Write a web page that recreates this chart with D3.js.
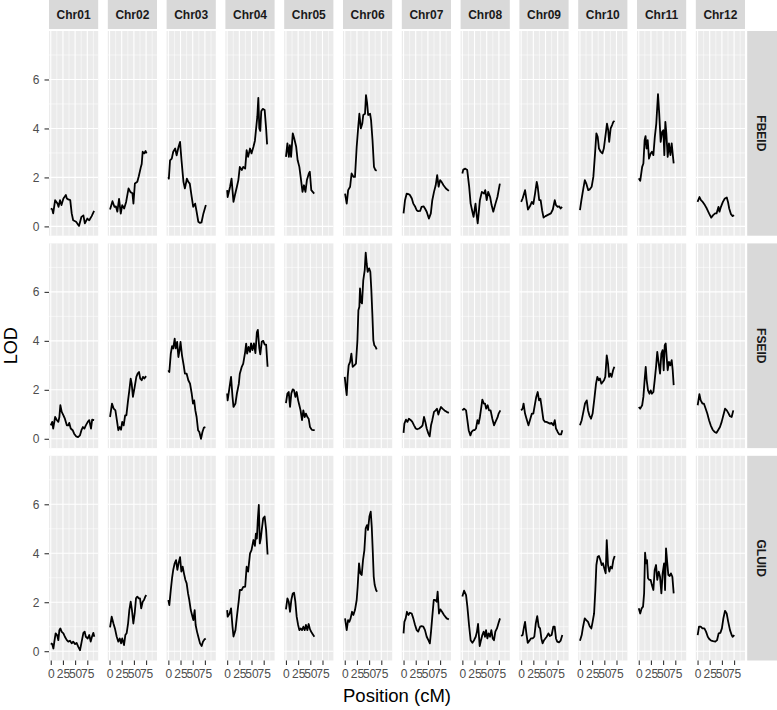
<!DOCTYPE html>
<html><head><meta charset="utf-8">
<script src="https://cdn.jsdelivr.net/npm/d3@7"></script>
<style>body{margin:0;background:#fff} svg{display:block} text{font-family:"Liberation Sans",Arial,Helvetica,sans-serif}</style>
</head><body><svg id="c" width="777" height="710"></svg>
<script>
const chromosomes = ["Chr01","Chr02","Chr03","Chr04","Chr05","Chr06","Chr07","Chr08","Chr09","Chr10","Chr11","Chr12"];
const traits = ["FBEID","FSEID","GLUID"];
const yTicks = [0,2,4,6];
const yMinor = [1,3,5,7];
const xTicks = [0,25,50,75];
const xMinor = [12.5,37.5,62.5,87.5];

// [position (cM), LOD] per chromosome
const fbeid = [
 [[0,0.73],[3,0.7],[5,0.53],[9,1.07],[14,0.93],[16,0.8],[19,1.07],[22,0.87],[26,1.14],[31,1.28],[33,1.14],[36,1.1],[40,1.07],[43,0.53],[46,0.25],[52,0.19],[58,0.02],[63,0.39],[67,0.45],[70,0.12],[75,0.32],[79,0.25],[84,0.42],[89,0.63]],
 [[1,0.69],[6,1.03],[10,0.8],[13,0.82],[16,0.6],[19.5,1.12],[23,0.52],[26,0.87],[30,0.73],[34,1.0],[39,1.55],[43,1.4],[47,1.35],[49,0.93],[52,1.75],[57,1.82],[60,2.05],[64,2.4],[66,2.55],[68,3.05],[71,2.98],[74,3.08],[76,2.98]],
 [[0,2.02],[1,1.95],[3.5,2.7],[7,2.77],[10,3.05],[14,3.18],[17,2.9],[21,3.25],[24,3.45],[27,2.7],[31,1.82],[34,1.55],[38,1.95],[41,1.82],[44,1.75],[48,1.2],[51,0.8],[55,0.93],[58,0.6],[61.5,0.19],[65,0.14],[68,0.16],[72,0.53],[77,0.87]],
 [[0,1.48],[1,1.2],[6,1.62],[9,1.95],[13,1.0],[16,1.28],[20,1.62],[23,1.89],[26,2.43],[30,2.3],[33,2.43],[37,2.36],[40,3.11],[43,2.84],[47,3.18],[50,2.98],[54,3.25],[57,3.5],[59,3.9],[62,4.5],[64,5.25],[66,4.0],[68,3.9],[70,4.7],[73,4.8],[77,4.75],[80,4.0],[82,3.35]],
 [[0,2.84],[3,3.39],[6,2.84],[8,3.32],[10.5,2.84],[14,3.8],[17,3.59],[21,3.25],[24,2.7],[27.5,2.43],[31,1.89],[34,1.41],[37,1.68],[40,1.41],[43,1.89],[47,2.16],[49,2.23],[52,1.48],[55,1.41],[58,1.34]],
 [[0.6,1.34],[4,0.93],[7,1.48],[11,1.62],[14,2.16],[18,2.02],[21,2.02],[24.5,3.25],[28,4.14],[30,4.6],[33,4.0],[36,4.2],[38,4.55],[41.6,4.6],[43.6,5.36],[46,5.02],[48,4.55],[52,4.6],[54,4.34],[57,3.52],[60,2.43],[63,2.3],[65.5,2.27]],
 [[0,0.53],[3,1.07],[6.5,1.34],[10,1.32],[13,1.28],[17,1.14],[20,0.93],[24,0.8],[27,0.66],[30,0.62],[34,0.63],[37,0.8],[41,0.82],[44,0.73],[47.5,0.6],[52,0.32],[56,0.53],[59,1.07],[62.5,1.41],[66,1.68],[69,2.09],[72,1.62],[75,1.89],[78,1.82],[82,1.68],[87,1.55],[93,1.45]],
 [[0,2.16],[2,2.32],[6,2.36],[10,2.3],[14,1.62],[17,0.93],[20.6,0.6],[23,0.39],[27,0.93],[29,0.53],[31.5,0.12],[33.5,0.53],[36,1.07],[40,1.41],[44.5,1.34],[47,1.48],[50,1.07],[53,1.41],[57,1.2],[60,0.87],[63.5,0.6],[68,0.93],[72,1.2],[77,1.75]],
 [[0,1.0],[3,1.14],[8,1.48],[11,1.07],[14,0.69],[18,0.82],[22,1.0],[25,0.91],[28.5,1.34],[32,1.82],[34,1.62],[37,1.07],[40,1.07],[43,0.66],[46,0.36],[50,0.42],[56,0.48],[61,0.53],[65,0.69],[69,1.07],[71.5,0.87],[75,0.8],[78,0.82],[81,0.73],[84,0.8]],
 [[0,0.66],[3,1.07],[6.4,1.48],[10,1.89],[13,1.75],[17,1.48],[20,1.51],[24,1.62],[27.5,2.02],[31,2.98],[33.7,3.8],[36.4,3.66],[39,3.18],[42.5,3.05],[46,2.98],[49,3.18],[53,3.8],[55.5,4.2],[58,3.93],[60,3.45],[63,4.0],[66,4.14],[68.5,4.27],[71,4.31]],
 [[0,1.96],[3,1.86],[7,2.43],[9.5,2.57],[12,3.52],[14,3.69],[16,3.18],[18.4,3.52],[21,2.77],[24.5,2.98],[27,3.05],[30,2.91],[33,3.66],[36,4.2],[39.5,5.4],[42,4.61],[45,3.45],[48,3.86],[50.5,3.93],[52.5,2.91],[54.6,4.27],[56.6,3.8],[59.4,2.84],[62,3.39],[65,2.91],[67.6,3.39],[70.3,2.84],[71.7,2.57]],
 [[0,1.0],[4,1.2],[7,1.07],[10.6,1.0],[15,0.87],[19,0.73],[23.6,0.53],[28,0.36],[32,0.46],[36,0.53],[39,0.53],[43,0.8],[45,0.6],[48,0.8],[52,1.0],[56,1.14],[60,1.18],[62.5,1.0],[65,0.73],[68.6,0.5],[72,0.42],[75,0.46]]
];
const fseid = [
 [[0,0.55],[3,0.69],[5,0.42],[9,0.89],[12,0.78],[15.6,0.69],[17.7,0.89],[19.7,1.37],[22.5,1.1],[26,0.96],[29,0.82],[33,0.55],[36,0.55],[38,0.65],[41,0.42],[45,0.35],[48,0.21],[52,0.1],[56,0.07],[60,0.14],[63,0.35],[66,0.48],[69,0.42],[72,0.55],[76,0.69],[79,0.76],[82.6,0.42],[85,0.78],[89,0.76]],
 [[1,0.89],[5,1.44],[8.5,1.23],[12,1.16],[15,0.76],[18,0.35],[21,0.48],[23.6,0.37],[26,0.69],[29,0.55],[32,0.96],[34.5,0.96],[38,1.57],[40.6,1.98],[43.4,2.46],[45.4,2.25],[48,1.71],[51.6,2.12],[55,2.53],[57.7,2.66],[60.5,2.73],[63,2.46],[66,2.39],[68.6,2.53],[71.4,2.46],[75,2.56]],
 [[0,2.8],[2,2.73],[5,3.48],[7.6,3.78],[10,3.69],[13,4.09],[15,3.69],[18,3.96],[20.6,3.34],[23,3.62],[25,3.96],[28,3.41],[31.5,3.0],[34,2.66],[37.6,2.66],[41,2.39],[44.5,2.25],[48,1.84],[50.6,1.44],[53,1.57],[55.4,1.16],[58,0.89],[61,0.35],[63.6,0.28],[67,0.0],[70,0.28],[73,0.46],[76,0.48]],
 [[0,1.85],[1,1.57],[5,2.12],[8,2.53],[11,1.71],[13,1.3],[17,1.44],[20,1.85],[24,2.25],[26,2.66],[30,2.94],[33,3.07],[37,3.55],[39,3.89],[41,3.48],[44,3.75],[47,3.55],[49,3.9],[52,3.62],[55,3.9],[58,3.5],[61,4.35],[63,4.45],[66,3.7],[68,3.45],[71,3.96],[74,4.0],[77,3.85],[80,3.85],[83,2.94]],
 [[0,1.46],[3,1.85],[5.7,1.91],[8.4,1.3],[11,1.85],[14,2.02],[16.6,1.98],[19.3,1.71],[22,1.91],[25,1.57],[27.5,1.37],[30,1.16],[33,0.76],[35.7,1.16],[38.5,0.89],[41,1.03],[44,0.89],[46.6,0.82],[49.4,0.48],[53,0.37],[56,0.35],[59,0.35]],
 [[0,2.53],[2,2.12],[4,1.78],[6,2.53],[8,3.0],[11,3.14],[13.6,3.48],[16.3,2.94],[19.7,3.0],[23,3.07],[26,4.02],[28,5.25],[30,5.39],[31.3,6.14],[33.4,5.59],[35.4,5.53],[38,6.47],[41,6.89],[43,7.6],[45,7.16],[47,6.82],[50,6.96],[52.5,6.82],[54.6,6.07],[56.6,5.12],[58.7,4.02],[60.7,3.82],[63.5,3.75],[65.5,3.65]],
 [[0,0.24],[1.7,0.62],[5,0.78],[8,0.69],[11,0.82],[15,0.76],[18,0.69],[21.5,0.55],[25,0.42],[28,0.39],[32,0.42],[36,0.48],[39,0.55],[42,0.89],[44.7,0.69],[47.5,0.42],[51,0.21],[53.6,0.1],[56.4,0.55],[59,0.76],[62.5,1.1],[66,1.16],[68.6,1.23],[71.4,0.99],[74,1.16],[77,1.3],[80,1.23],[84,1.16],[88.5,1.1],[93,1.06]],
 [[0,1.16],[3.5,1.23],[7.6,1.16],[10.3,0.76],[13,0.35],[16.5,0.14],[19,0.28],[22.6,0.35],[25,0.35],[28,0.42],[31,0.76],[33.5,0.62],[36,0.89],[39,1.3],[41,1.6],[44,1.44],[46.5,1.44],[49,1.23],[52,1.37],[54.7,1.16],[58,1.16],[61.5,0.82],[65,0.55],[68,0.69],[72,0.86],[74.5,1.03],[78,1.16]],
 [[0,1.16],[3,1.23],[5,1.44],[8,1.03],[11,0.82],[15,0.55],[18,0.76],[22,1.03],[25,1.03],[28.5,1.44],[31,1.71],[34,1.91],[36.7,1.57],[39.5,1.64],[42,1.3],[45.6,0.78],[49,0.69],[52,0.69],[56,0.65],[59,0.62],[62.6,0.65],[66,0.55],[69,0.76],[71.5,0.42],[75,0.28],[78,0.18],[82,0.18],[84.5,0.35]],
 [[0,0.55],[3.6,0.76],[7,1.1],[10.4,1.44],[14,1.57],[16.6,1.16],[19.3,0.96],[22.7,0.82],[26,1.03],[29.6,1.64],[33,2.25],[35.7,2.53],[38.5,2.39],[41,2.46],[44,2.25],[46.7,2.32],[49.4,2.39],[52,2.53],[55,3.41],[57.6,3.07],[59.7,2.53],[62.4,2.66],[65,2.53],[68,2.8],[70.6,2.94]],
 [[0,1.3],[3,1.23],[7,1.37],[9.5,1.71],[12,2.39],[14.3,2.94],[16.3,2.39],[19,1.98],[22,1.84],[24.5,1.98],[27,1.84],[30,1.91],[32.7,2.39],[35.5,2.94],[38,3.55],[41,3.07],[43.7,2.66],[46.4,3.48],[49,3.62],[51.2,2.8],[53.3,3.82],[55.3,3.89],[57.3,3.34],[59.4,2.8],[62,3.14],[64.8,3.0],[67.6,3.21],[69.7,2.8],[71.7,2.19]],
 [[0.3,1.37],[3.8,1.82],[6.5,1.57],[10,1.44],[13,1.44],[16.7,1.23],[20,1.03],[23.6,0.76],[27,0.55],[31,0.37],[35,0.28],[39,0.24],[42.7,0.37],[46,0.48],[49.5,0.69],[53,0.96],[56.4,1.23],[60,1.16],[63,1.06],[66.6,0.92],[70,0.89],[73.4,1.16]]
];
const gluid = [
 [[0,0.32],[3,0.29],[5.4,0.11],[7.4,0.39],[10,0.73],[13,0.66],[15.6,0.45],[17.7,0.86],[19.7,0.93],[22.5,0.79],[26,0.73],[29,0.59],[33,0.45],[36,0.39],[39.5,0.43],[43,0.32],[46,0.39],[50,0.29],[53,0.34],[56.6,0.18],[60,0.04],[63.5,0.39],[67,0.75],[69.6,0.8],[72,0.59],[76,0.52],[79,0.66],[82,0.39],[84.6,0.59],[87.4,0.75],[89.4,0.59]],
 [[1,0.97],[4.4,1.41],[8,1.13],[11,0.93],[14.7,0.59],[18,0.39],[21,0.52],[23.6,0.32],[26,0.52],[29.7,0.25],[32.4,0.66],[35,0.73],[38,1.13],[40.6,1.68],[43.4,2.02],[46,1.68],[48.8,1.13],[51.6,1.54],[54.3,2.16],[57,2.23],[60,2.16],[62.5,2.16],[65,1.75],[68,2.02],[70.7,2.09],[73.4,2.23],[75.5,2.29]],
 [[0,2.09],[2,1.88],[5,2.5],[7.6,2.98],[10,3.32],[13,3.59],[15.8,3.72],[18.5,3.32],[21,3.59],[24,3.84],[26.7,3.25],[29.4,3.45],[32,3.18],[35,2.91],[37.6,2.77],[40.4,2.36],[43,2.09],[46,1.68],[48.6,1.48],[51.3,1.27],[54,1.68],[56,1.07],[58.8,0.8],[61.5,0.59],[65,0.32],[68.4,0.21],[71,0.39],[74,0.48],[76.6,0.52]],
 [[0,1.68],[1,1.41],[5,1.54],[8,1.75],[11,1.0],[13,0.6],[17,0.86],[20,1.41],[24,2.09],[26,2.5],[30,2.5],[33,2.63],[37,2.63],[40,3.45],[43,3.25],[47,4.0],[50,4.13],[54,4.54],[57,4.3],[59,4.8],[61,4.6],[63,5.4],[65,5.97],[67,4.4],[69,4.6],[71,4.95],[74,5.43],[77,5.5],[80,4.95],[83,3.95]],
 [[0,1.71],[3,2.16],[5.7,2.02],[8.4,1.61],[11,2.09],[14,2.36],[16.6,2.39],[19.3,2.02],[22,1.41],[25,1.07],[27.5,0.86],[30,0.93],[33,0.86],[35.7,1.0],[38.5,0.86],[41,1.07],[44,0.86],[46.6,1.11],[49.4,0.89],[53,0.75],[56,0.66],[58.3,0.59]],
 [[0.6,1.34],[4,0.86],[6.8,1.27],[9.5,1.2],[12,1.34],[15,1.61],[17.7,1.48],[21,1.68],[24.5,2.09],[26.5,2.63],[29.3,3.59],[32,3.18],[34.8,3.11],[37.5,3.72],[40.3,4.13],[43,5.02],[45.7,5.15],[47.8,4.95],[50.6,5.5],[53.3,5.7],[55.4,5.09],[57.4,4.13],[59.5,3.04],[61.5,2.7],[64.3,2.5],[66.3,2.43]],
 [[0,0.73],[1.7,1.2],[4.4,1.34],[7,1.61],[10,1.48],[13,1.57],[16.7,1.54],[20,1.34],[23.6,1.07],[27,0.86],[30,0.8],[34,1.0],[37,1.02],[40.6,1.0],[44,0.86],[47.5,0.59],[51,0.45],[54,0.32],[56.4,0.8],[59,1.41],[62,2.09],[65,2.09],[68,2.02],[70,2.43],[72.7,1.54],[75.5,1.71],[79,1.61],[83,1.48],[88.5,1.34],[93,1.3]],
 [[0,2.23],[3.5,2.47],[7.6,2.29],[10.3,1.82],[13.7,1.07],[17,0.45],[20.6,0.34],[24,0.45],[27.4,0.59],[30,0.8],[32.2,1.11],[34.2,0.59],[35.6,0.21],[38.3,0.45],[41,0.66],[43.8,0.8],[46.5,0.59],[48.6,0.86],[51.3,0.52],[54,0.73],[56.8,0.59],[59.5,0.86],[62.3,0.52],[65,0.45],[67.7,0.8],[71,0.93],[74,1.13],[77.3,1.34]],
 [[0,0.62],[3,0.66],[6,1.0],[8,1.2],[10.7,0.73],[13.5,0.34],[17,0.43],[20,0.52],[23.7,0.52],[27,0.59],[30,1.13],[33,1.43],[36,1.0],[38.8,0.93],[41.5,0.52],[44,0.32],[47,0.45],[49.7,0.52],[52.4,0.59],[56,0.73],[59,0.62],[62.6,0.66],[66,1.0],[68.8,1.0],[71.5,0.52],[74,0.39],[77.7,0.36],[81,0.43],[84.5,0.66]],
 [[0,0.43],[3.6,0.66],[6.4,1.0],[9.8,1.34],[13,1.27],[16.6,1.2],[20,1.02],[23.4,0.93],[26,1.2],[29,1.54],[31.6,2.5],[33.7,3.52],[36.4,3.86],[39,3.89],[42,3.72],[44.6,3.52],[47.3,3.59],[50,3.38],[52.8,3.18],[55,4.54],[57.6,3.52],[60.3,3.25],[63,3.45],[65.8,3.38],[68.5,3.72],[71.3,3.89]],
 [[0,1.75],[3,1.54],[6,1.75],[8.8,1.82],[11,2.36],[13,4.02],[15,3.59],[17,3.72],[19,2.98],[21.8,2.91],[24.5,2.91],[27,2.7],[30,2.5],[32.7,3.32],[35.5,3.52],[38,2.91],[41,3.25],[43.7,3.04],[46.4,2.36],[49,3.18],[52,3.59],[54,2.5],[56,4.2],[58,3.72],[60.7,3.11],[63.5,3.07],[66,3.18],[69,3.04],[71.7,2.36]],
 [[0.3,0.66],[3,1.0],[6.5,1.0],[10,0.93],[14,0.93],[17.4,0.8],[21,0.59],[24,0.5],[28,0.43],[32,0.41],[36.5,0.39],[40,0.45],[43.4,0.73],[46.8,0.75],[50,0.93],[53,1.34],[56.4,1.65],[59.8,1.54],[63,1.2],[66.6,0.86],[70,0.66],[72,0.59],[75.5,0.66]]
];

const series = [fbeid, fseid, gluid];
const svg = d3.select("#c");
const L = 49, PW = 49.2, CS = 58.8, T = 31, PH = 204.7, RS = 212.4;
const STRIP = 29;

const x = d3.scaleLinear().domain([-3.6, 97.4]).range([0, PW]);
const allLod = series.flat(2).map(d => d[1]);
const [lo, hi] = d3.extent(allLod);
const pad = (hi - lo) * 0.05;
const y = d3.scaleLinear().domain([lo - pad, hi + pad]).range([PH, 0]);
const line = d3.line().x(d => x(d[0])).y(d => y(d[1]));

// top strips
chromosomes.forEach((c, i) => {
  const g = svg.append("g").attr("transform", `translate(${L + i * CS},0)`);
  g.append("rect").attr("width", PW).attr("height", STRIP).attr("fill", "#D9D9D9");
  g.append("text").attr("x", PW / 2).attr("y", STRIP / 2 + 4.3).attr("text-anchor", "middle")
    .attr("font-size", 12).attr("font-weight", "bold").attr("fill", "#1A1A1A").text(c);
});
// right strips
const RX = L + 11 * CS + PW + 2.2;
traits.forEach((t, r) => {
  const g = svg.append("g").attr("transform", `translate(${RX},${T + r * RS})`);
  g.append("rect").attr("width", STRIP + 1).attr("height", PH).attr("fill", "#D9D9D9");
  g.append("text").attr("transform", `translate(${STRIP / 2 - 4.3},${PH / 2}) rotate(90)`)
    .attr("text-anchor", "middle").attr("font-size", 12).attr("font-weight", "bold")
    .attr("fill", "#1A1A1A").text(t);
});

// panels
traits.forEach((t, r) => {
  chromosomes.forEach((c, i) => {
    const g = svg.append("g").attr("transform", `translate(${L + i * CS},${T + r * RS})`);
    g.append("rect").attr("width", PW).attr("height", PH).attr("fill", "#EBEBEB");
    g.selectAll(".hm").data(yMinor).enter().append("line")
      .attr("x1", 0).attr("x2", PW).attr("y1", d => y(d)).attr("y2", d => y(d))
      .attr("stroke", "#fff").attr("stroke-width", 0.55);
    g.selectAll(".vm").data(xMinor).enter().append("line")
      .attr("y1", 0).attr("y2", PH).attr("x1", d => x(d)).attr("x2", d => x(d))
      .attr("stroke", "#fff").attr("stroke-width", 0.55);
    g.selectAll(".hM").data(yTicks).enter().append("line")
      .attr("x1", 0).attr("x2", PW).attr("y1", d => y(d)).attr("y2", d => y(d))
      .attr("stroke", "#fff").attr("stroke-width", 1.1);
    g.selectAll(".vM").data(xTicks).enter().append("line")
      .attr("y1", 0).attr("y2", PH).attr("x1", d => x(d)).attr("x2", d => x(d))
      .attr("stroke", "#fff").attr("stroke-width", 1.1);
    g.append("path").datum(series[r][i]).attr("d", line)
      .attr("fill", "none").attr("stroke", "#000").attr("stroke-width", 1.8)
      .attr("stroke-linejoin", "round");
  });
  // y axis
  const ay = svg.append("g").attr("transform", `translate(${L},${T + r * RS})`)
    .call(d3.axisLeft(y).tickValues(yTicks).tickSize(4.5).tickPadding(5).tickFormat(d3.format("d")));
  ay.select(".domain").remove();
  ay.selectAll("line").attr("stroke", "#333").attr("stroke-width", 1.1);
  ay.selectAll("text").attr("fill", "#4D4D4D").attr("font-size", 12).attr("font-family", null);
});
// x axes
chromosomes.forEach((c, i) => {
  const ax = svg.append("g").attr("transform", `translate(${L + i * CS},${T + 2 * RS + PH})`)
    .call(d3.axisBottom(x).tickValues(xTicks).tickSize(4.5).tickPadding(4).tickFormat(d3.format("d")));
  ax.select(".domain").remove();
  ax.selectAll("line").attr("stroke", "#333").attr("stroke-width", 1.1);
  ax.selectAll("text").attr("fill", "#4D4D4D").attr("font-size", 12).attr("font-family", null);
});
// axis titles
svg.append("text").attr("transform", `translate(17,${T + (2 * RS + PH) / 2}) rotate(-90)`)
  .attr("text-anchor", "middle").attr("font-size", 18).attr("fill", "#000").text("LOD");
svg.append("text").attr("x", L + (11 * CS + PW) / 2).attr("y", 702)
  .attr("text-anchor", "middle").attr("font-size", 18.5).attr("fill", "#000").text("Position (cM)");
</script></body></html>
